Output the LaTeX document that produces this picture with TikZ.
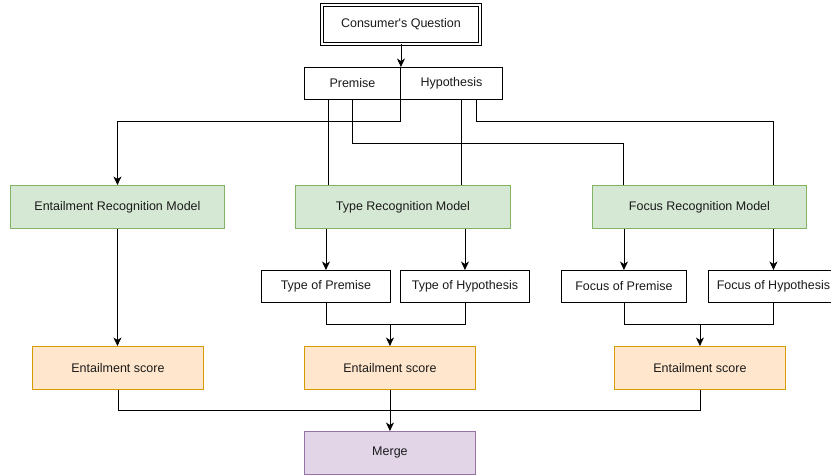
\documentclass[tikz,border=0pt]{standalone}
\usepackage{fontspec}
\setmainfont{Liberation Sans}
\usetikzlibrary{arrows.meta,positioning,calc}
\definecolor{gfill}{HTML}{D5E8D4}
\definecolor{gdraw}{HTML}{82B366}
\definecolor{ofill}{HTML}{FFE6CC}
\definecolor{odraw}{HTML}{D79B00}
\definecolor{pfill}{HTML}{E1D5E7}
\definecolor{pdraw}{HTML}{9673A6}
\definecolor{txt}{HTML}{1A1A1A}
\tikzset{
  box/.style={draw=black, line width=0.9pt, anchor=north west, inner sep=0pt, align=center,
    text=txt, font=\fontsize{12.5}{15}\selectfont},
  greenbox/.style={box, fill=gfill, draw=gdraw},
  orangebox/.style={box, fill=ofill, draw=odraw},
  purplebox/.style={box, fill=pfill, draw=pdraw},
  conn/.style={line width=0.9pt, draw=black},
  arr/.style={conn, -{Stealth[length=8.5pt,width=8pt,inset=2.5pt]}},
}
\begin{document}
\begin{tikzpicture}[x=1pt,y=-1pt]
\useasboundingbox (0,0) rectangle (831,475);
\fill[white] (0,0) rectangle (831,475);
% nodes
\node[box, double, double distance=1.6pt, minimum width=158pt, minimum height=39pt] (cq) at (321.5,4.5) {Consumer\textquotesingle s Question};
\node[box, minimum width=96pt, minimum height=32pt] (prem) at (304,67) {Premise};
\node[box, minimum width=102pt, minimum height=32pt] (hyp) at (400,67) {Hypothesis};
\node[greenbox, minimum width=214pt, minimum height=43pt] (erm) at (10,185) {Entailment Recognition Model};
\node[greenbox, minimum width=215pt, minimum height=43pt] (trm) at (295,185) {Type Recognition Model};
\node[greenbox, minimum width=214pt, minimum height=43pt] (frm) at (592,185) {Focus Recognition Model};
\node[box, minimum width=129pt, minimum height=32pt] (tp) at (261,270) {Type of Premise};
\node[box, minimum width=129pt, minimum height=32pt] (th) at (400,270) {Type of Hypothesis};
\node[box, minimum width=125pt, minimum height=32pt] (fp) at (561,270) {Focus of Premise};
\node[box, minimum width=130pt, minimum height=32pt] (fh) at (708,270) {Focus of Hypothesis};
\node[orangebox, minimum width=171pt, minimum height=43pt] (es1) at (32,346) {Entailment score};
\node[orangebox, minimum width=171pt, minimum height=43pt] (es2) at (304,346) {Entailment score};
\node[orangebox, minimum width=171pt, minimum height=43pt] (es3) at (614,346) {Entailment score};
\node[purplebox, minimum width=171pt, minimum height=43pt] (merge) at (304,431) {Merge};
% connectors from the top
\draw[arr] (cq.south) -- (cq.south |- prem.north);
\draw[arr] (prem.south east) -- ++(0,22) -| (erm.north);
\draw[conn] ([xshift=-24pt]prem.south) coordinate (a1) -- (a1 |- trm.north);
\draw[conn] (prem.south) -- ++(0,44) -| ([xshift=-76pt]frm.north);
\draw[conn] ([xshift=10pt]hyp.south) coordinate (a2) -- (a2 |- trm.north);
\draw[conn] ([xshift=25pt]hyp.south) -- ++(0,22) -| ([xshift=74pt]frm.north);
% models to outputs
\draw[arr] (erm.south) -- (erm.south |- es1.north);
\draw[arr] (tp.north |- trm.south) -- (tp.north);
\draw[arr] (th.north |- trm.south) -- (th.north);
\draw[arr] (fp.north |- frm.south) -- (fp.north);
\draw[arr] (fh.north |- frm.south) -- (fh.north);
% joins
\draw[conn] (tp.south) -- ++(0,22) -| (th.south);
\draw[arr] ([yshift=21pt]es2.north) -- (es2.north);
\draw[conn] (fp.south) -- ++(0,22) -| (fh.south);
\draw[arr] ([yshift=21pt]es3.north) -- (es3.north);
% merge
\draw[conn] (es1.south) -- ++(0,21) -| (es3.south);
\draw[arr] (es2.south) -- (merge.north);
\end{tikzpicture}
\end{document}
